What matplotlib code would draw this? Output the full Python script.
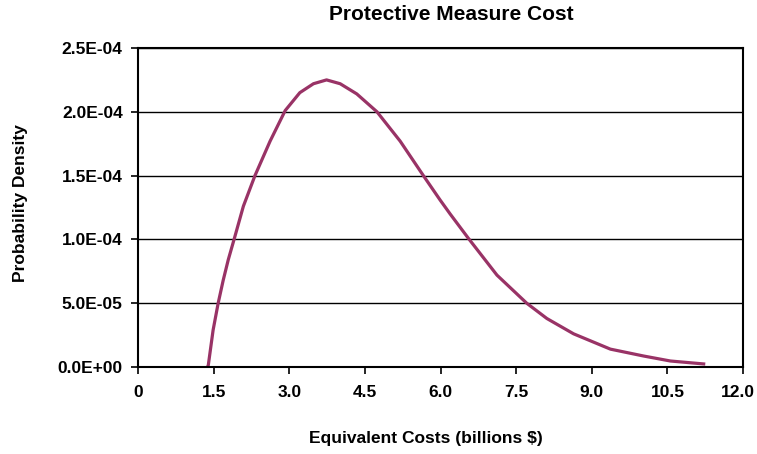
import numpy as np
import matplotlib.pyplot as plt
import matplotlib.transforms as mtransforms
from matplotlib.ticker import FuncFormatter

# values
cost = [1.38, 1.395, 1.49, 1.59, 1.69, 1.79, 1.92, 2.09, 2.32, 2.62, 2.92,
        3.21, 3.48, 3.74, 4.01, 4.34, 4.74, 5.20, 5.66, 5.99, 6.19, 6.55,
        7.12, 7.71, 8.11, 8.64, 9.37, 10.03, 10.56, 11.22]
density = [0.0, 0.016e-4, 0.29e-4, 0.50e-4, 0.68e-4, 0.84e-4, 1.02e-4, 1.26e-4,
           1.50e-4, 1.77e-4, 2.01e-4, 2.15e-4, 2.22e-4, 2.25e-4, 2.22e-4,
           2.14e-4, 2.00e-4, 1.77e-4, 1.50e-4, 1.31e-4, 1.20e-4, 1.01e-4,
           0.72e-4, 0.50e-4, 0.38e-4, 0.26e-4, 0.14e-4, 0.086e-4, 0.047e-4,
           0.024e-4]
xticks = [0, 1.5, 3.0, 4.5, 6.0, 7.5, 9.0, 10.5, 12.0]
yticks = [0, 5e-5, 1e-4, 1.5e-4, 2e-4, 2.5e-4]

plt.rcParams['font.family'] = ['Liberation Sans', 'DejaVu Sans']
plt.rcParams['font.weight'] = 'bold'

W, H = 757, 454
fig = plt.figure(figsize=(W / 100, H / 100), dpi=100)
ax = fig.add_axes([138 / W, 1 - 367 / H, 605 / W, 319 / H])

ax.plot(cost, density, color='#993366', lw=2.3)

ax.set_xlim(0, 12)
ax.set_ylim(0, 2.5e-4)
ax.set_xticks(xticks)
ax.set_xticklabels(['0'] + ['%.1f' % v for v in xticks[1:]])
ax.set_yticks(yticks)
ax.yaxis.set_major_formatter(FuncFormatter(lambda v, p: '%.1E' % v))
ax.grid(axis='y', color='black', lw=1)
ax.set_axisbelow(True)
for s in ax.spines.values():
    s.set_linewidth(1.5)
ax.tick_params(direction='out', length=5, width=1.2, labelsize=12.5)
ax.tick_params(axis='y', pad=6)
ax.tick_params(axis='x', pad=8)

# last x label sits a bit left so it stays inside the picture
last = ax.get_xticklabels()[-1]
last.set_transform(last.get_transform() +
                   mtransforms.ScaledTranslation(-5 / 100, 0, fig.dpi_scale_trans))

fig.text(451 / W, 1 - 14 / H, 'Protective Measure Cost', fontsize=15,
         fontweight='bold', ha='center', va='center')
fig.text(426 / W, 1 - 438 / H, 'Equivalent Costs (billions $)', fontsize=12.5,
         fontweight='bold', ha='center', va='center')
fig.text(21 / W, 1 - 203 / H, 'Probability Density', fontsize=12.5,
         fontweight='bold', ha='center', va='center', rotation=90)

fig.savefig('out.png', dpi=100)
